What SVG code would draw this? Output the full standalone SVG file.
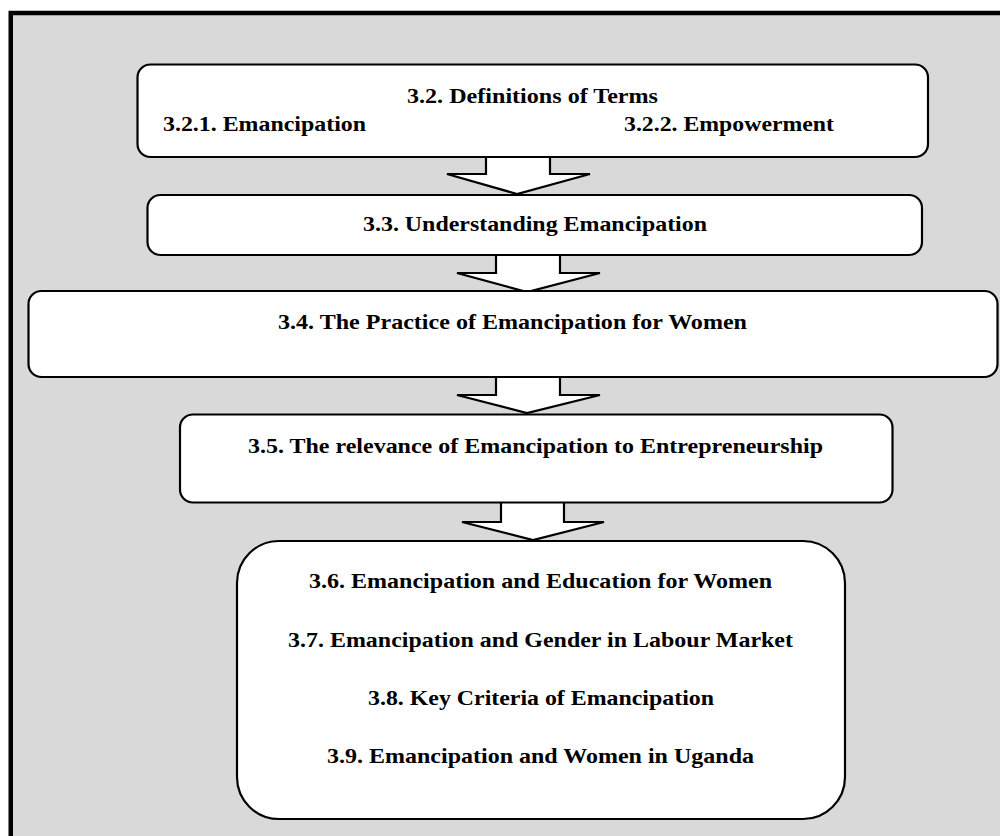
<svg xmlns="http://www.w3.org/2000/svg" width="1000" height="836" viewBox="0 0 1000 836">
<style>
.frame{fill:#D9D9D9;stroke:#000;stroke-width:4.5}
.box{fill:#fff;stroke:#000;stroke-width:2.2}
.arr{fill:#fff;stroke:#000;stroke-width:2.2;stroke-linejoin:miter}
.t{font-family:"Liberation Serif","Times New Roman",serif;font-weight:bold;font-size:21px;fill:#000}
</style>
<rect width="1000" height="836" fill="#fff"/>
<rect class="frame" x="10.75" y="13" width="1010" height="860"/>
<g id="connectors">
<polygon class="arr" points="486,157 486,174 447,174 517,194 590,174 550,174 550,157"/>
<polygon class="arr" points="496,255 496,273 457,273 527,292 600,273 560,273 560,255"/>
<polygon class="arr" points="496,377 496,395 457,395 527,413 600,395 560,395 560,377"/>
<polygon class="arr" points="501,502 501,522 462,522 533,540 604,522 564,522 564,502"/>
</g>
<g id="n32">
<rect class="box" x="137.5" y="64.5" width="790.5" height="92.5" rx="13"/>
<text class="t" x="407" y="103" textLength="251" lengthAdjust="spacingAndGlyphs">3.2. Definitions of Terms</text>
<text class="t" x="163" y="131" textLength="203" lengthAdjust="spacingAndGlyphs">3.2.1. Emancipation</text>
<text class="t" x="624" y="131" textLength="210" lengthAdjust="spacingAndGlyphs">3.2.2. Empowerment</text>
</g>
<g id="n33">
<rect class="box" x="147.5" y="195" width="774.5" height="60" rx="13"/>
<text class="t" x="363" y="231" textLength="344" lengthAdjust="spacingAndGlyphs">3.3. Understanding Emancipation</text>
</g>
<g id="n34">
<rect class="box" x="28.5" y="291" width="969" height="86" rx="13"/>
<text class="t" x="278" y="329" textLength="469" lengthAdjust="spacingAndGlyphs">3.4. The Practice of Emancipation for Women</text>
</g>
<g id="n35">
<rect class="box" x="180" y="414.5" width="712.5" height="88" rx="13"/>
<text class="t" x="248" y="453" textLength="575" lengthAdjust="spacingAndGlyphs">3.5. The relevance of Emancipation to Entrepreneurship</text>
</g>
<g id="n36">
<rect class="box" x="237" y="541" width="608" height="278" rx="42"/>
<text class="t" x="309" y="588" textLength="463" lengthAdjust="spacingAndGlyphs">3.6. Emancipation and Education for Women</text>
<text class="t" x="288" y="647" textLength="505" lengthAdjust="spacingAndGlyphs">3.7. Emancipation and Gender in Labour Market</text>
<text class="t" x="368" y="705" textLength="346" lengthAdjust="spacingAndGlyphs">3.8. Key Criteria of Emancipation</text>
<text class="t" x="327" y="763" textLength="427" lengthAdjust="spacingAndGlyphs">3.9. Emancipation and Women in Uganda</text>
</g>
</svg>
